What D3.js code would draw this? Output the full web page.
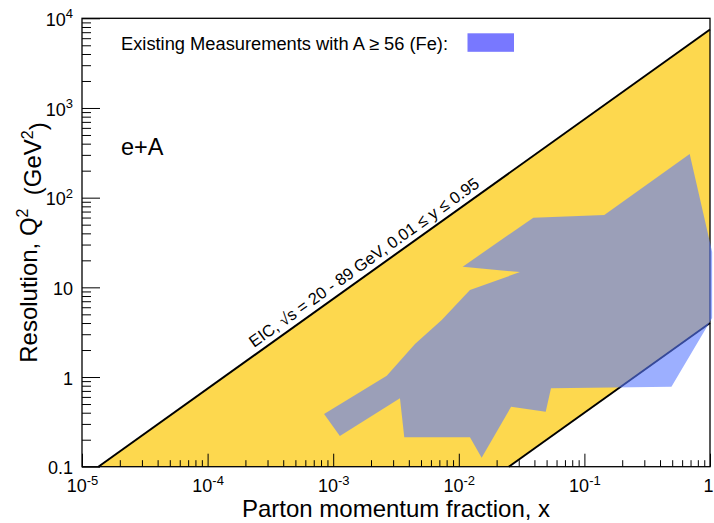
<!DOCTYPE html>
<html>
<head>
<meta charset="utf-8">
<script src="https://cdn.jsdelivr.net/npm/d3@7"></script>
<style>
  body { margin: 0; background: #fff; }
  text { font-family: "Liberation Sans", Arial, Helvetica, sans-serif; }
</style>
</head>
<body>
<div class="chart"></div>
<script>
var svgWidth = 714;
var svgHeight = 523;

var margin = { top: 18.3, right: 4, bottom: 56.3, left: 82 };
var width = svgWidth - margin.left - margin.right;
var height = svgHeight - margin.top - margin.bottom;

// EIC kinematic band corners (x, Q^2)
var bandX = [1.35e-5, 1, 1, 0.025];
var bandQ2 = [0.1, 7500, 4, 0.1];

var measX = [8.46e-4, 2.67e-3, 4.48e-3, 7.31e-3, 0.01227, 0.0307, 0.01074, 0.0392, 0.144, 0.689,
             1.04, 1.04, 0.493, 0.0542, 0.0492, 0.0261, 0.0152, 0.01227, 3.68e-3, 3.40e-3, 1.13e-3];
var measQ2 = [0.387, 1.03, 2.33, 4.32, 9.34, 14.8, 17.0, 59.8, 64.1, 307,
              24.8, 4.55, 0.78, 0.748, 0.41, 0.467, 0.126, 0.213, 0.213, 0.58, 0.22];

// axis ticks and labels
var xMajor = [1e-5, 1e-4, 1e-3, 1e-2, 1e-1, 1];
var xTickBase = ["10", "10", "10", "10", "10", "1"];
var xTickExp = ["-5", "-4", "-3", "-2", "-1", ""];
var yMajor = [0.1, 1, 10, 100, 1000, 10000];
var yTickBase = ["0.1", "1", "10", "10", "10", "10"];
var yTickExp = ["", "", "", "2", "3", "4"];

// where the band label starts along the upper edge
var labelX = 2.5e-4;

var svg = d3.select(".chart")
  .append("svg")
  .attr("width", svgWidth)
  .attr("height", svgHeight);

var chartGroup = svg.append("g")
  .attr("transform", `translate(${margin.left}, ${margin.top})`);

var xScale = d3.scaleLog().domain([1e-5, 1]).range([0, width]);
var yScale = d3.scaleLog().domain([0.1, 1e4]).range([height, 0]);

var band = bandX.map((x, i) => [xScale(x), yScale(bandQ2[i])]);

// yellow band
chartGroup.append("path")
  .attr("d", d3.line()(band) + "Z")
  .attr("fill", "#fdd84e");

// frame
chartGroup.append("rect")
  .attr("width", width)
  .attr("height", height)
  .attr("fill", "none")
  .attr("stroke", "#000")
  .attr("stroke-width", 1.3);

// axes: minor then major ticks, pointing inwards
function drawAxis(axisFn, scale, major, base, exp, size, pad, transform) {
  var minor = scale.ticks().filter(t => !major.some(m => Math.abs(Math.log10(t / m)) < 1e-6));
  chartGroup.append("g")
    .attr("transform", transform)
    .call(axisFn(scale).tickValues(minor).tickSize(-size / 2).tickSizeOuter(0).tickFormat(""))
    .call(g => g.select(".domain").remove());
  var g = chartGroup.append("g")
    .attr("transform", transform)
    .call(axisFn(scale).tickValues(major).tickSize(-size).tickSizeOuter(0).tickPadding(pad)
      .tickFormat((d, i) => base[i]));
  g.select(".domain").remove();
  g.selectAll(".tick line").attr("stroke", "#000");
  g.selectAll(".tick text")
    .attr("font-size", 18)
    .attr("font-family", "Liberation Sans, Arial, sans-serif")
    .attr("fill", "#000")
    .each(function(d, i) {
      if (exp[i]) {
        d3.select(this).append("tspan")
          .attr("font-size", 13)
          .attr("dy", "-0.6em")
          .text(exp[i]);
      }
    });
  return g;
}

drawAxis(d3.axisLeft, yScale, yMajor, yTickBase, yTickExp, 18, 9, "translate(0,0)")
  .selectAll(".tick text").attr("dy", "0.4em");
var xAxisG = drawAxis(d3.axisBottom, xScale, xMajor, xTickBase, xTickExp, 13, 13, `translate(0, ${height})`);
// keep the last label ("1") inside the page
xAxisG.selectAll(".tick text").filter(d => d === 1).attr("text-anchor", "end").attr("dx", 3);

// band edges
chartGroup.append("line")
  .attr("x1", band[0][0]).attr("y1", band[0][1])
  .attr("x2", band[1][0]).attr("y2", band[1][1])
  .attr("stroke", "#000").attr("stroke-width", 2);
chartGroup.append("line")
  .attr("x1", band[2][0]).attr("y1", band[2][1])
  .attr("x2", band[3][0]).attr("y2", band[3][1])
  .attr("stroke", "#000").attr("stroke-width", 2);

// existing measurements (semi transparent)
chartGroup.append("path")
  .attr("d", d3.line()(measX.map((x, i) => [xScale(x), yScale(measQ2[i])])) + "Z")
  .attr("fill", "#5a7aff")
  .attr("fill-opacity", 0.6);

// label along upper band edge
var slope = (band[1][1] - band[0][1]) / (band[1][0] - band[0][0]);
var angle = Math.atan(slope) * 180 / Math.PI;
var lx = xScale(labelX);
var ly = band[0][1] + slope * (lx - band[0][0]);
chartGroup.append("text")
  .attr("transform", `translate(${lx}, ${ly}) rotate(${angle})`)
  .attr("dy", -6)
  .attr("font-size", 16.5)
  .text("EIC, \u221As = 20 - 89 GeV, 0.01 \u2264 y \u2264 0.95");

// legend
chartGroup.append("text")
  .attr("x", 39)
  .attr("y", 32)
  .attr("font-size", 18.3)
  .text("Existing Measurements with A \u2265 56 (Fe):");
chartGroup.append("rect")
  .attr("x", 385.5)
  .attr("y", 15)
  .attr("width", 46.5)
  .attr("height", 18.5)
  .attr("fill", "#7878ff");

chartGroup.append("text")
  .attr("x", 39)
  .attr("y", 137)
  .attr("font-size", 23.5)
  .text("e+A");

// axis titles
chartGroup.append("text")
  .attr("transform", `translate(${width / 2}, ${height + 50})`)
  .attr("text-anchor", "middle")
  .attr("font-size", 24)
  .text("Parton momentum fraction, x");

var yTitle = chartGroup.append("text")
  .attr("transform", `translate(${37 - margin.left}, ${height / 2}) rotate(-90)`)
  .attr("text-anchor", "middle")
  .attr("font-size", 24);
yTitle.append("tspan").text("Resolution, Q");
yTitle.append("tspan").attr("font-size", 16).attr("dy", "-0.55em").text("2");
yTitle.append("tspan").attr("dy", "0.55em").text("\u00a0\u00a0(GeV");
yTitle.append("tspan").attr("font-size", 16).attr("dy", "-0.55em").text("2");
yTitle.append("tspan").attr("dy", "0.55em").text(")");
</script>
</body>
</html>
